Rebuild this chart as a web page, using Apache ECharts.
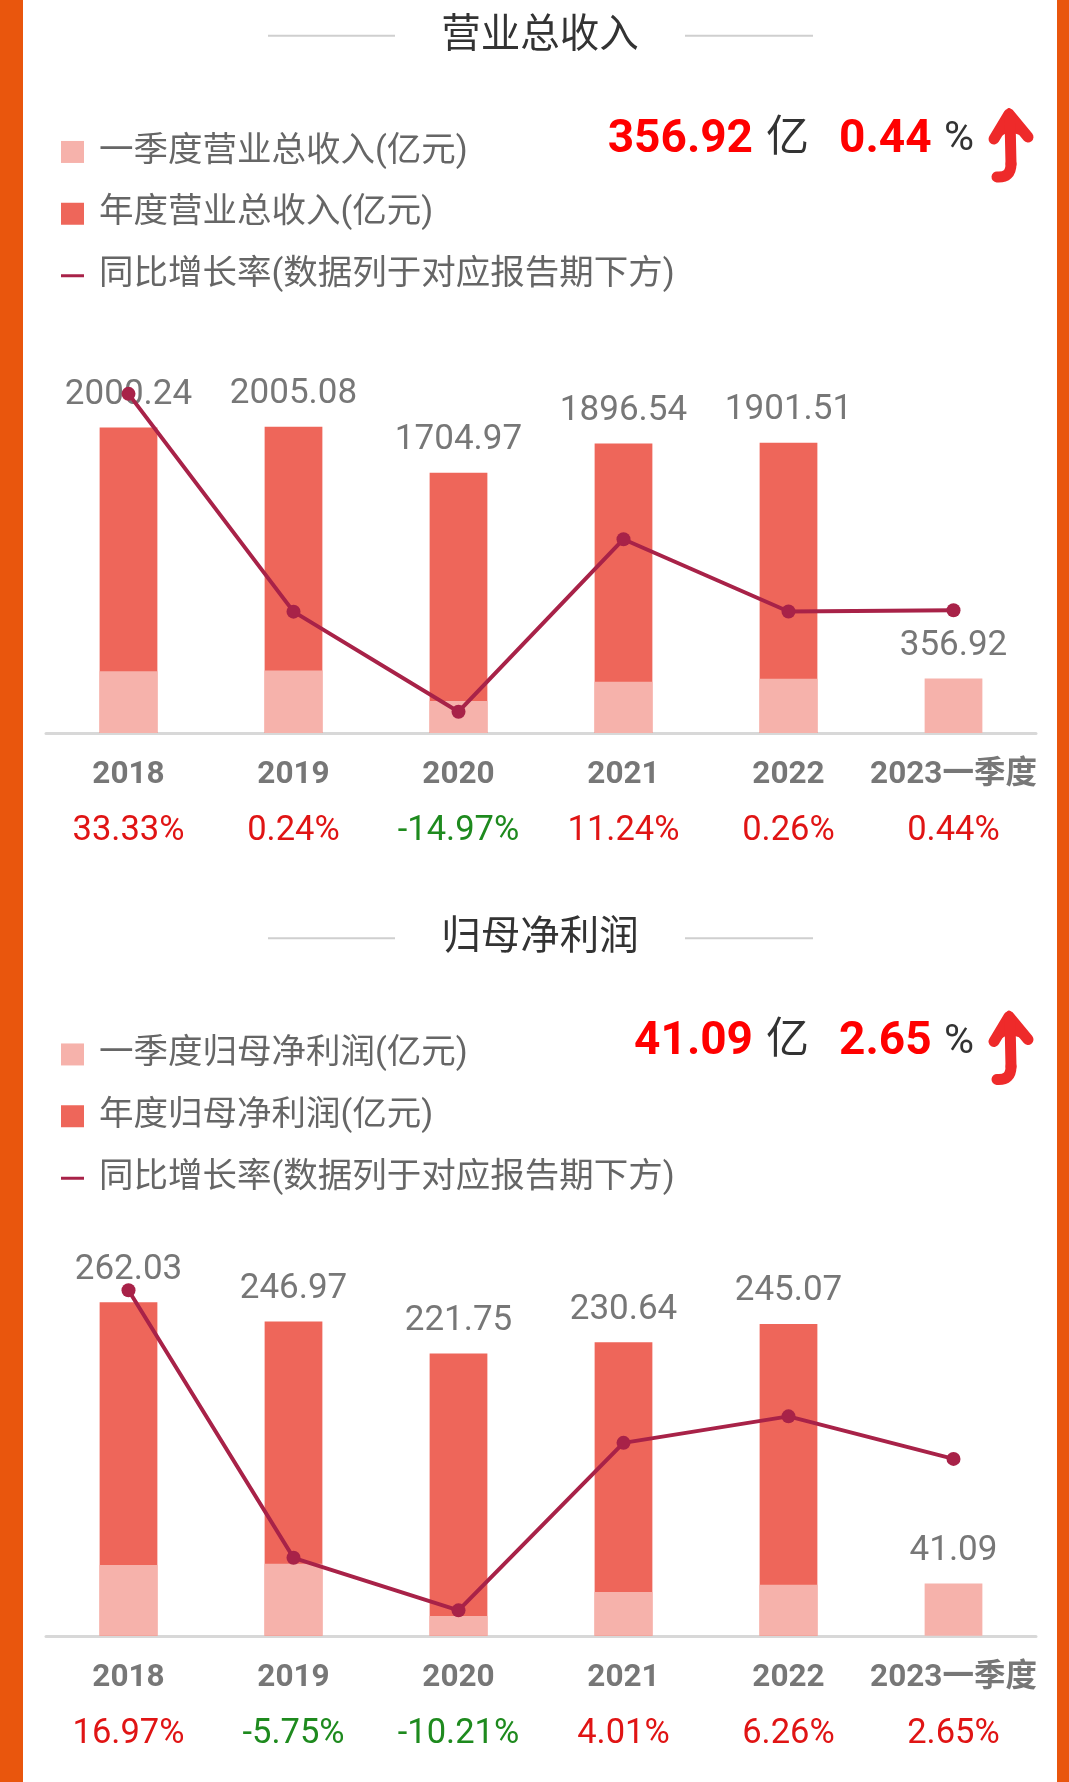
<!DOCTYPE html>
<html><head><meta charset="utf-8">
<script src="https://cdn.jsdelivr.net/npm/echarts@6/dist/echarts.min.js"></script>
<style>html,body{margin:0;padding:0;background:#fff}#c{width:1069px;height:1782px}</style>
</head><body><div id="c"></div>
<script>
// ---- data ----
const categories = ['2018', '2019', '2020', '2021', '2022', '2023一季度'];
const revAnnual = [2000.24, 2005.08, 1704.97, 1896.54, 1901.51, null];
const revQ1 = [404.98, 409.46, 209.09, 335.24, 355.36, 356.92];
const revGrowth = [33.33, 0.24, -14.97, 11.24, 0.26, 0.44];
const profitAnnual = [262.03, 246.97, 221.75, 230.64, 245.07, null];
const profitQ1 = [55.67, 56.56, 15.58, 34.40, 40.03, 41.09];
const profitGrowth = [16.97, -5.75, -10.21, 4.01, 6.26, 2.65];
const titles = ['营业总收入', '归母净利润'];
const q1Names = ['一季度营业总收入(亿元)', '一季度归母净利润(亿元)'];
const annualNames = ['年度营业总收入(亿元)', '年度归母净利润(亿元)'];
const lineName = '同比增长率(数据列于对应报告期下方)';

const FONT = "Roboto, 'Noto Sans CJK SC', sans-serif";
const C_ANNUAL = '#ee665a', C_Q1 = '#f6b2ab', C_LINE = '#a82248';
const C_UP = '#e01414', C_DOWN = '#1e8a1e';

const chart = echarts.init(document.getElementById('c'), null, {renderer: 'canvas'});

const sections = [
  {annual: revAnnual, q1: revQ1, growth: revGrowth, barMax: 2500, lineMin: -18.2, lineMax: 39.8, gridTop: 351.25, dy: 0},
  {annual: profitAnnual, q1: profitQ1, growth: profitGrowth, barMax: 300, lineMin: -12.37, lineMax: 20.04, gridTop: 1254.05, dy: 902.5}
];

const grids = [], xAxes = [], yAxes = [], series = [], legends = [], graphics = [];

// orange side borders
graphics.push({type: 'rect', shape: {x: 0, y: 0, width: 23, height: 1782}, style: {fill: '#e9560d'}, silent: true});
graphics.push({type: 'rect', shape: {x: 1057, y: 0, width: 12, height: 1782}, style: {fill: '#e9560d'}, silent: true});

sections.forEach((s, i) => {
  const dy = s.dy;
  grids.push({left: 46, right: 33, top: s.gridTop, height: 381.75});
  xAxes.push({
    type: 'category', gridIndex: i, data: categories,
    axisLine: {lineStyle: {color: '#d8d8d8', width: 3}},
    axisTick: {show: false},
    axisLabel: {
      interval: 0, margin: 22,
      formatter: (v, idx) => {
        const g = s.growth[idx];
        return '{y|' + v + '}\n{' + (g >= 0 ? 'p' : 'n') + '|' + g.toFixed(2) + '%}';
      },
      rich: {
        y: {fontSize: 31.5, fontWeight: 'bold', color: '#777', lineHeight: 40, fontFamily: FONT},
        p: {fontSize: 34.5, color: C_UP, lineHeight: 73, fontFamily: FONT},
        n: {fontSize: 34.5, color: C_DOWN, lineHeight: 73, fontFamily: FONT}
      }
    }
  });
  yAxes.push({type: 'value', gridIndex: i, min: 0, max: s.barMax, show: false, splitLine: {show: false}});
  yAxes.push({type: 'value', gridIndex: i, min: s.lineMin, max: s.lineMax, show: false, splitLine: {show: false}});

  const labelStyle = {show: true, position: 'top', distance: 15, fontSize: 35, lineHeight: 35, color: '#777', fontFamily: FONT};
  series.push({
    name: annualNames[i], type: 'bar', xAxisIndex: i, yAxisIndex: 2 * i,
    barWidth: '35%', data: s.annual, itemStyle: {color: C_ANNUAL},
    label: Object.assign({}, labelStyle, {formatter: p => p.value.toFixed(2)})
  });
  series.push({
    name: q1Names[i], type: 'bar', xAxisIndex: i, yAxisIndex: 2 * i,
    barWidth: '35%', barGap: '-100%', itemStyle: {color: C_Q1},
    data: s.q1.map((v, k) => k === s.q1.length - 1
      ? {value: v, label: Object.assign({}, labelStyle, {formatter: p => p.value.toFixed(2)})}
      : v),
    label: {show: false}
  });
  series.push({
    name: lineName, type: 'line', xAxisIndex: i, yAxisIndex: 2 * i + 1, z: 10,
    data: s.growth, symbol: 'circle', symbolSize: 14, showSymbol: true,
    lineStyle: {color: C_LINE, width: 4}, itemStyle: {color: C_LINE}
  });

  // legends
  const legendItems = [
    {name: q1Names[i], icon: 'rect', cy: 152.2 + dy},
    {name: annualNames[i], icon: 'rect', cy: 214 + dy},
    {name: lineName, icon: 'path://M0,0H23V3H0Z', cy: 276 + dy}
  ];
  legendItems.forEach(it => {
    legends.push({
      left: 61, top: it.cy - 17.5, padding: 0, itemWidth: 23, itemHeight: 22,
      selectedMode: false, symbolKeepAspect: true,
      textStyle: {fontSize: 34.5, color: '#666', fontFamily: FONT, padding: [0, 0, 0, 10]},
      data: [{name: it.name, icon: it.icon}]
    });
  });

  // section title with side rules
  const ty = 36.7 + dy;
  graphics.push({type: 'line', shape: {x1: 268, y1: ty - 1, x2: 395, y2: ty - 1}, style: {stroke: '#cfcfcf', lineWidth: 2}, silent: true});
  graphics.push({type: 'line', shape: {x1: 685, y1: ty - 1, x2: 813, y2: ty - 1}, style: {stroke: '#cfcfcf', lineWidth: 2}, silent: true});
  graphics.push({type: 'text', x: 540, y: ty, silent: true,
    style: {text: titles[i], fill: '#333', fontSize: 39.5, fontFamily: FONT, align: 'center', verticalAlign: 'middle'}});

  // headline numbers
  const hy = 140 + dy;
  const lastQ1 = s.q1[s.q1.length - 1], lastG = s.growth[s.growth.length - 1];
  graphics.push({type: 'text', x: 753, y: hy, silent: true,
    style: {text: lastQ1.toFixed(2), fill: '#f00', fontSize: 46, fontWeight: 'bold', fontFamily: FONT, align: 'right', verticalAlign: 'middle'}});
  graphics.push({type: 'text', x: 766, y: hy, silent: true,
    style: {text: '亿', fill: '#333', fontSize: 43, fontFamily: FONT, align: 'left', verticalAlign: 'middle'}});
  graphics.push({type: 'text', x: 839, y: hy, silent: true,
    style: {text: lastG.toFixed(2), fill: '#f00', fontSize: 46, fontWeight: 'bold', fontFamily: FONT, align: 'left', verticalAlign: 'middle'}});
  graphics.push({type: 'text', x: 944, y: hy, silent: true,
    style: {text: '%', fill: '#333', fontSize: 41, fontFamily: FONT, align: 'left', verticalAlign: 'middle'}});
  // hand-drawn up arrow
  const arrowStyle = {stroke: '#ee2a2a', lineWidth: 11, fill: null, lineCap: 'round', lineJoin: 'round'};
  graphics.push({type: 'polygon', silent: true,
    shape: {points: [[1009, 110 + dy], [1030, 136 + dy], [1014, 131 + dy], [1006, 131 + dy], [992, 139 + dy]]},
    style: {fill: '#ee2a2a', stroke: '#ee2a2a', lineWidth: 4, lineJoin: 'round'}});
  graphics.push({type: 'polyline', silent: true,
    shape: {points: [[994, 139 + dy], [1009, 114 + dy], [1028, 137 + dy]]}, style: arrowStyle});
  graphics.push({type: 'polyline', silent: true,
    shape: {points: [[1010, 118 + dy], [1011, 164 + dy]]}, style: arrowStyle});
  graphics.push({type: 'bezierCurve', silent: true,
    shape: {x1: 1011, y1: 164 + dy, cpx1: 1011, cpy1: 178 + dy, x2: 997, y2: 177 + dy}, style: arrowStyle});
});

chart.setOption({
  animation: false,
  backgroundColor: '#fff',
  grid: grids, xAxis: xAxes, yAxis: yAxes, series: series, legend: legends,
  graphic: {elements: graphics}
});
</script></body></html>
